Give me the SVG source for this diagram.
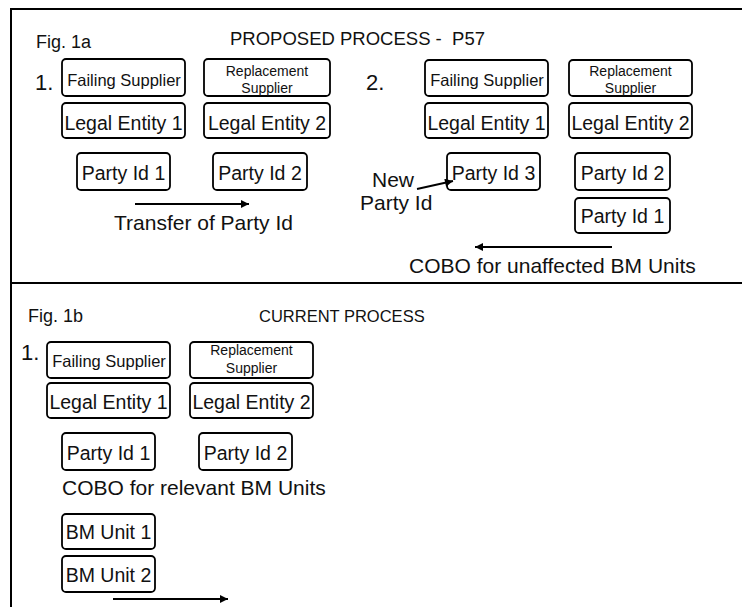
<svg xmlns="http://www.w3.org/2000/svg" width="742" height="607" viewBox="0 0 742 607">
<defs>
<marker id="ah" viewBox="0 0 10 10" refX="10" refY="5" markerWidth="11" markerHeight="8" markerUnits="userSpaceOnUse" orient="auto"><path d="M0,0 L10,5 L0,10 z" fill="#000"/></marker>
<style>
text{font-family:"Liberation Sans",Arial,sans-serif;fill:#111}
.b{fill:#fff;stroke:#000;stroke-width:1.8}
.m{font-size:19.5px;text-anchor:middle}
.fs{font-size:16.5px;text-anchor:middle}
.rs{font-size:14px;text-anchor:middle}
.lab{font-size:21px}
.ttl{font-size:18.5px}
.fig{font-size:18px}
.num{font-size:22px}
.fr{stroke:#000;stroke-width:2;fill:none}
.c{stroke:#000;stroke-width:2;fill:none;marker-end:url(#ah)}
</style>
</defs>
<rect width="742" height="607" fill="#fff"/>
<g id="frame">
<path class="fr" d="M742,9 H11 V607 M11,283 H742"/>
</g>
<g id="labels">
<text class="fig" x="36" y="48">Fig. 1a</text>
<text class="ttl" x="230" y="45" xml:space="preserve">PROPOSED PROCESS -  P57</text>
<text class="num" x="35" y="90">1.</text>
<text class="num" x="366" y="90">2.</text>
<text class="lab" x="114" y="230">Transfer of Party Id</text>
<text class="lab" x="372" y="187">New</text>
<text class="lab" x="360" y="210">Party Id</text>
<text class="lab" x="409" y="273">COBO for unaffected BM Units</text>
<text class="fig" x="28" y="322">Fig. 1b</text>
<text class="ttl" x="259" y="322" style="font-size:16.5px">CURRENT PROCESS</text>
<text class="num" x="21" y="360">1.</text>
<text class="lab" x="62" y="495">COBO for relevant BM Units</text>
</g>
<g id="a1-failing"><rect class="b" x="62" y="59" width="123" height="37" rx="4"/><text class="fs" x="124" y="86">Failing Supplier</text></g>
<g id="a1-replacement"><rect class="b" x="204" y="59" width="126" height="37" rx="4"/><text class="rs" x="267" y="76">Replacement</text><text class="rs" x="267" y="93">Supplier</text></g>
<g id="a1-le1"><rect class="b" x="62" y="103" width="123" height="35" rx="4"/><text class="m" x="123.5" y="130">Legal Entity 1</text></g>
<g id="a1-le2"><rect class="b" x="204" y="103" width="126" height="35" rx="4"/><text class="m" x="267" y="130">Legal Entity 2</text></g>
<g id="a1-p1"><rect class="b" x="77" y="153" width="93" height="37" rx="4"/><text class="m" x="123.5" y="180">Party Id 1</text></g>
<g id="a1-p2"><rect class="b" x="213" y="153" width="94" height="37" rx="4"/><text class="m" x="260" y="180">Party Id 2</text></g>
<g id="a2-failing"><rect class="b" x="425" y="60" width="123" height="36" rx="4"/><text class="fs" x="487" y="86">Failing Supplier</text></g>
<g id="a2-replacement"><rect class="b" x="569" y="60" width="123" height="36" rx="4"/><text class="rs" x="630.5" y="76">Replacement</text><text class="rs" x="630.5" y="93">Supplier</text></g>
<g id="a2-le1"><rect class="b" x="425" y="103" width="123" height="35" rx="4"/><text class="m" x="486.5" y="130">Legal Entity 1</text></g>
<g id="a2-le2"><rect class="b" x="569" y="103" width="123" height="35" rx="4"/><text class="m" x="630.5" y="130">Legal Entity 2</text></g>
<g id="a2-p3"><rect class="b" x="447" y="153" width="93" height="37" rx="4"/><text class="m" x="493.5" y="180">Party Id 3</text></g>
<g id="a2-p2"><rect class="b" x="575" y="153" width="95" height="37" rx="4"/><text class="m" x="622.5" y="180">Party Id 2</text></g>
<g id="a2-p1"><rect class="b" x="575" y="198" width="95" height="35" rx="4"/><text class="m" x="622.5" y="223">Party Id 1</text></g>
<g id="b-failing"><rect class="b" x="47" y="342" width="123" height="36" rx="4"/><text class="fs" x="109" y="367">Failing Supplier</text></g>
<g id="b-replacement"><rect class="b" x="190" y="342" width="123" height="36" rx="4"/><text class="rs" x="251.5" y="355">Replacement</text><text class="rs" x="251.5" y="373">Supplier</text></g>
<g id="b-le1"><rect class="b" x="47" y="383" width="123" height="35" rx="4"/><text class="m" x="108.5" y="409">Legal Entity 1</text></g>
<g id="b-le2"><rect class="b" x="190" y="383" width="123" height="35" rx="4"/><text class="m" x="251.5" y="409">Legal Entity 2</text></g>
<g id="b-p1"><rect class="b" x="62" y="433" width="93" height="37" rx="4"/><text class="m" x="108.5" y="460">Party Id 1</text></g>
<g id="b-p2"><rect class="b" x="199" y="433" width="93" height="37" rx="4"/><text class="m" x="245.5" y="460">Party Id 2</text></g>
<g id="b-bm1"><rect class="b" x="62" y="514" width="93" height="35" rx="4"/><text class="m" x="108.5" y="539">BM Unit 1</text></g>
<g id="b-bm2"><rect class="b" x="62" y="556" width="93" height="36" rx="4"/><text class="m" x="108.5" y="582">BM Unit 2</text></g>
<g id="connectors">
<line class="c" x1="135" y1="204" x2="249" y2="204"/>
<line class="c" x1="417" y1="189" x2="453" y2="181"/>
<line class="c" x1="612" y1="247" x2="475" y2="247"/>
<line class="c" x1="113" y1="599" x2="228" y2="599"/>
</g>
</svg>
